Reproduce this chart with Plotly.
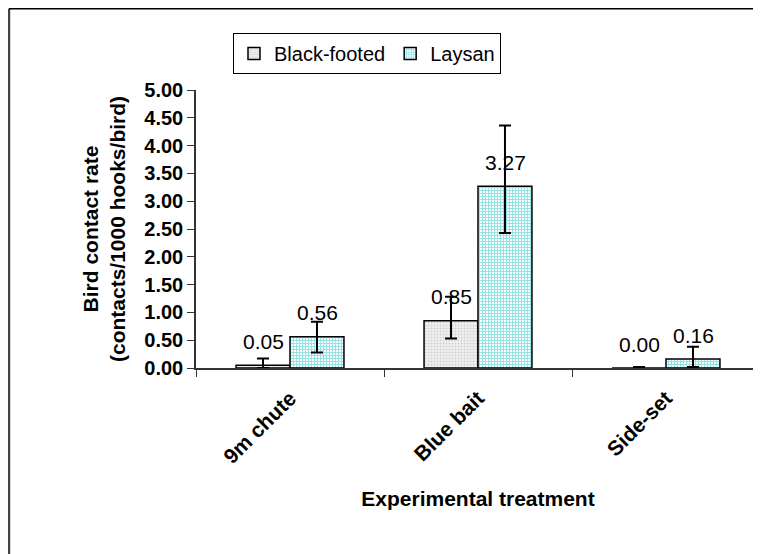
import plotly.graph_objects as go

categories = ["9m chute", "Blue bait", "Side-set"]
black_footed = [0.05, 0.85, 0.00]
black_footed_err_plus = [0.12, 0.43, 0.02]
black_footed_err_minus = [0.05, 0.32, 0.0]
laysan = [0.56, 3.27, 0.16]
laysan_err_plus = [0.27, 1.09, 0.22]
laysan_err_minus = [0.28, 0.84, 0.14]
y_ticks = [0, 0.5, 1, 1.5, 2, 2.5, 3, 3.5, 4, 4.5, 5]

FONT = "Arial, Liberation Sans, sans-serif"

fig = go.Figure()
fig.add_trace(go.Bar(
    name="Black-footed", x=categories, y=black_footed,
    marker=dict(color="#e6e6e6", line=dict(color="black", width=1.5),
                pattern=dict(shape=".", fgcolor="#b0b0b0", bgcolor="#f2f2f2", size=3, solidity=0.4)),
    error_y=dict(type="data", symmetric=False, array=black_footed_err_plus,
                 arrayminus=black_footed_err_minus, color="black", thickness=2, width=6),
))
fig.add_trace(go.Bar(
    name="Laysan", x=categories, y=laysan,
    marker=dict(color="#99e6e6", line=dict(color="black", width=1.5),
                pattern=dict(shape="+", fgcolor="#2ec8c8", bgcolor="#ffffff", size=3, solidity=0.6)),
    error_y=dict(type="data", symmetric=False, array=laysan_err_plus,
                 arrayminus=laysan_err_minus, color="black", thickness=2, width=6),
))

for vals, shift in ((black_footed, -27), (laysan, 27)):
    for c, v in zip(categories, vals):
        fig.add_annotation(x=c, y=v, xref="x", yref="y", text=f"{v:.2f}", showarrow=False,
                           xshift=shift, yshift=24, yanchor="middle",
                           font=dict(family=FONT, size=21, color="black"))

# outer chart border (extends beyond the visible window)
fig.add_shape(type="line", xref="paper", yref="paper", x0=-0.3316, x1=-0.3316, y0=-0.8, y1=1.2921,
              line=dict(color="#444444", width=2.5))
fig.add_shape(type="line", xref="paper", yref="paper", x0=-0.3316, x1=1.05, y0=1.2921, y1=1.2921,
              line=dict(color="black", width=1.5))

fig.update_layout(
    width=753, height=546,
    margin=dict(l=188, r=1, t=82, b=186, autoexpand=False),
    paper_bgcolor="white", plot_bgcolor="white",
    barmode="group", bargap=0.426, bargroupgap=0,
    font=dict(family=FONT, color="black"),
    showlegend=True,
    legend=dict(orientation="h", x=0.0656, y=1.205, xanchor="left", yanchor="top",
                bordercolor="black", borderwidth=1, bgcolor="white",
                font=dict(family=FONT, size=20), itemwidth=30, tracegroupgap=0),
    xaxis=dict(type="category", range=[-0.5, 2.5], tickson="boundaries", ticks="outside", ticklen=7,
               tickcolor="#333333", showline=True, linecolor="#333333", linewidth=1.5,
               tickangle=-45, ticklabelstandoff=8,
               tickfont=dict(family=FONT, size=21, color="black", weight="bold"),
               title=dict(text="<b>Experimental treatment</b>", standoff=24,
                          font=dict(family=FONT, size=21, color="black"))),
    yaxis=dict(range=[0, 5], tickvals=y_ticks, tickformat=".2f", ticks="outside", ticklen=7,
               tickcolor="#333333", showline=True, linecolor="#333333", linewidth=1.5,
               showgrid=False, zeroline=False,
               tickfont=dict(family=FONT, size=20, color="black", weight="bold"),
               title=dict(text="<b>Bird contact rate<br>(contacts/1000 hooks/bird)</b>", standoff=13,
                          font=dict(family=FONT, size=21, color="black"))),
)

fig.write_html("out.html")
